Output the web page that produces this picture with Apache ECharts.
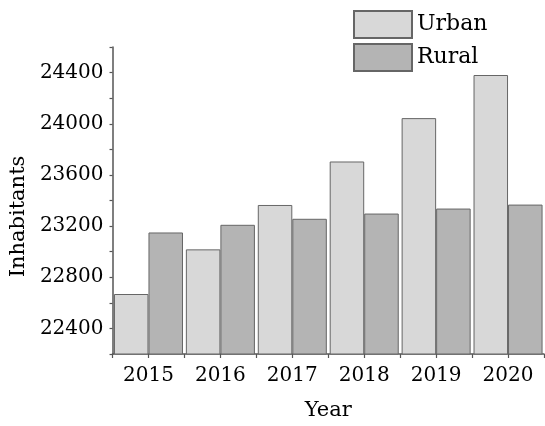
<!DOCTYPE html>
<html>
<head>
<meta charset="utf-8">
<script src="https://cdn.jsdelivr.net/npm/echarts@6/dist/echarts.min.js"></script>
<style>html,body{margin:0;padding:0;background:#fff}#c{width:545px;height:426px}</style>
</head>
<body>
<div id="c"></div>
<script>
const years = ['2015', '2016', '2017', '2018', '2019', '2020'];
const urban = [22669, 23018, 23365, 23705, 24044, 24381];
const rural = [23150, 23210, 23257, 23298, 23337, 23368];
const seriesNames = ['Urban', 'Rural'];
const yMin = 22200, yMax = 24600, yStep = 200;

const FONT = 'DejaVu Serif';
const axisColor = '#555555';
const chart = echarts.init(document.getElementById('c'), null, {renderer: 'canvas'});
chart.setOption({
  animation: false,
  backgroundColor: '#fff',
  textStyle: {fontFamily: FONT, color: '#000'},
  grid: {left: 112, right: 1, top: 47, bottom: 69},
  legend: {
    orient: 'vertical', left: 353, top: 10, itemGap: 4, padding: 0,
    itemWidth: 58, itemHeight: 27, icon: 'rect',
    data: seriesNames,
    textStyle: {fontFamily: FONT, fontSize: 22, color: '#000'}
  },
  xAxis: [{
    type: 'category', data: years,
    name: 'Year', nameLocation: 'middle', nameGap: 46,
    nameTextStyle: {fontFamily: FONT, fontSize: 21, color: '#000'},
    axisLine: {lineStyle: {color: axisColor, width: 1.5}},
    axisTick: {show: true, length: 4, inside: false, lineStyle: {color: axisColor, width: 1.2}},
    axisLabel: {show: false},
    splitLine: {show: false}
  }, {
    type: 'category', data: years, position: 'bottom',
    axisLine: {show: false},
    axisTick: {show: true, alignWithLabel: true, length: 4, lineStyle: {color: axisColor, width: 1.2}},
    axisLabel: {fontFamily: FONT, fontSize: 20, color: '#000', margin: 12},
    splitLine: {show: false}
  }],
  yAxis: {
    type: 'value', min: yMin, max: yMax, interval: yStep,
    name: 'Inhabitants', nameLocation: 'middle', nameGap: 82,
    nameTextStyle: {fontFamily: FONT, fontSize: 21, color: '#000', padding: [0, 32, 0, 0]},
    axisLine: {show: true, lineStyle: {color: axisColor, width: 1.5}},
    axisTick: {show: true, length: 3, lineStyle: {color: axisColor, width: 1.2}},
    axisLabel: {
      fontFamily: FONT, fontSize: 20, color: '#000', margin: 9,
      formatter: v => (v % 400 === 0 && v !== yMin && v !== yMax) ? String(v) : ''
    },
    splitLine: {show: false}
  },
  series: [{
    name: seriesNames[0], type: 'bar', data: urban, xAxisIndex: 0,
    barGap: '0%', barCategoryGap: '4%',
    itemStyle: {color: '#d8d8d8', borderColor: '#666666', borderWidth: 1}
  }, {
    name: seriesNames[1], type: 'bar', data: rural, xAxisIndex: 0,
    barGap: '0%', barCategoryGap: '4%',
    itemStyle: {color: '#b4b4b4', borderColor: '#666666', borderWidth: 1}
  }]
});
</script>
</body>
</html>
